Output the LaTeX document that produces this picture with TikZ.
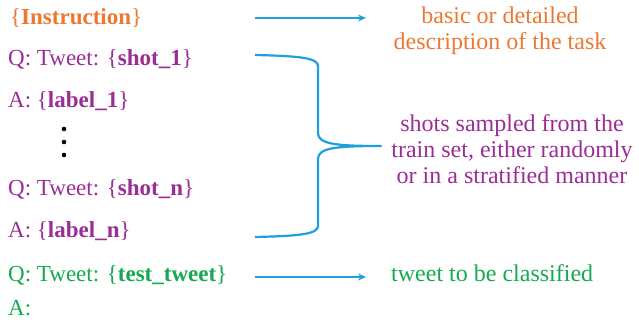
\documentclass[tikz,border=0pt]{standalone}
\usepackage{fontspec}
\setmainfont{Liberation Serif}
\usetikzlibrary{arrows.meta}
\definecolor{instr}{RGB}{237,120,50}
\definecolor{shot}{RGB}{155,45,150}
\definecolor{test}{RGB}{20,170,80}
\definecolor{link}{RGB}{30,160,220}
\tikzset{
  line/.style={anchor=base west, inner sep=0pt, font=\fontsize{23}{26}\selectfont},
  note/.style={anchor=base, inner sep=0pt, align=center, font=\fontsize{24}{26}\selectfont},
  pointer/.style={draw=link, line width=2pt, -{Stealth[length=8pt,width=7pt]}},
  bracket/.style={draw=link, line width=2.2pt, line join=round}
}
\begin{document}
\begin{tikzpicture}[x=1pt,y=-1pt]
\useasboundingbox (0,0) rectangle (639,328);
% prompt lines
\node[line, text=instr] (instr) at (10,25) {\{\textbf{Instruction}\}};
\node[line, text=shot] (q1) at (8,66) {Q: Tweet: \{\textbf{shot\_1}\}};
\node[line, text=shot] (a1) at (8,108) {A: \{\textbf{label\_1}\}};
\node[line, text=shot] (qn) at (8,196) {Q: Tweet: \{\textbf{shot\_n}\}};
\node[line, text=shot] (an) at (8,238) {A: \{\textbf{label\_n}\}};
\node[line, text=test] (qt) at (8,281) {Q: Tweet: \{\textbf{test\_tweet}\}};
\node[line, text=test] (at) at (8,315) {A:};
% vertical ellipsis
\foreach \y/\n in {129/d1,142/d2,155/d3}
  \fill (64,\y) circle (2.3pt) coordinate (\n);
% explanations (the base anchor sits on the last line)
\node[note, text=instr] (ninstr) at (500,50) {basic or detailed\\description of the task};
\node[note, text=shot] (nshot) at (512,184) {shots sampled from the\\train set, either randomly\\or in a stratified manner};
\node[note, text=test, anchor=base west] (ntest) at (391,281) {tweet to be classified};
% connectors
\coordinate (i0) at (255,18);
\coordinate (i1) at (366,18);
\coordinate (t0) at (255,277);
\coordinate (t1) at (366,277);
\draw[pointer] (i0) -- (i1);
\draw[pointer] (t0) -- (t1);
% curly bracket
\coordinate (b0) at (255,55);
\coordinate (tip) at (381,146);
\coordinate (b1) at (255,237);
\draw[bracket] (b0) .. controls (300,56) and (318,58) .. (318,66)
  -- (318,133) .. controls (318,144) and (335,146) .. (tip)
  .. controls (335,146) and (318,148) .. (318,159)
  -- (318,226) .. controls (318,234) and (300,236) .. (b1);
\end{tikzpicture}
\end{document}
